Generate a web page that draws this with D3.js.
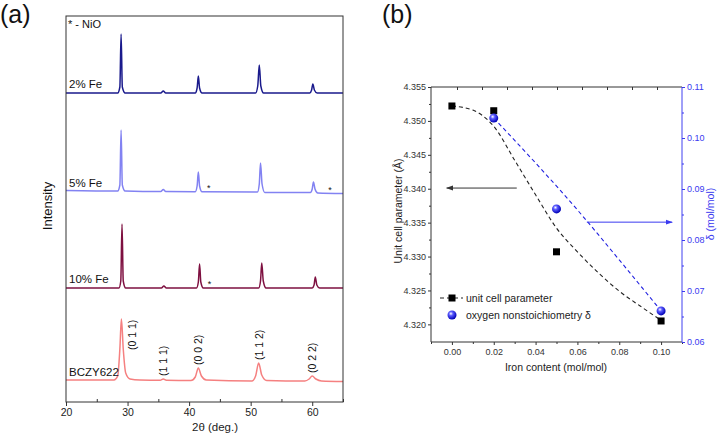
<!DOCTYPE html>
<html>
<head>
<meta charset="utf-8">
<script src="https://cdn.jsdelivr.net/npm/d3@7"></script>
<style>
body { margin: 0; background: #fff; }
text { font-family: "Liberation Sans", Arial, sans-serif; }
</style>
</head>
<body>
<div class="chart"></div>
<script>
// ---- data, panel (a): XRD patterns, [2theta, intensity above own baseline]
var sample_names = ["2% Fe", "5% Fe", "10% Fe", "BCZY622"];
var sample_colors = ["#1a1a8c", "#8282f2", "#7e1040", "#f58080"];
var sample_offsets = [309, 210, 114, 21];

var trace_2fe = [[20, 0], [28.4, 0], [28.75, 6], [28.95, 59], [29.15, 6], [29.6, 0], [35.4, 0], [35.8, 2], [36.2, 0],
    [41.0, 0], [41.3, 5], [41.5, 17], [41.7, 5], [42.1, 0], [50.8, 0], [51.15, 7], [51.4, 28], [51.65, 7], [52.1, 0],
    [59.6, 0], [59.9, 3], [60.1, 9], [60.35, 3], [60.8, 0], [65, 0]];
var trace_5fe = [[20, 1.5], [28.4, 1], [28.75, 7], [28.95, 62], [29.15, 7], [29.6, 1], [35.4, 0.5], [35.8, 2.5], [36.2, 0.5],
    [41.0, 0.3], [41.3, 6], [41.5, 20], [41.7, 6], [42.1, 0.2], [51.1, 0], [51.4, 8], [51.6, 29], [51.85, 8], [52.3, -0.5],
    [59.7, -0.5], [60.0, 3], [60.2, 10], [60.45, 3], [60.9, -1], [65, -1.5]];
var trace_10fe = [[20, 0], [28.6, 0], [28.9, 7], [29.1, 64], [29.3, 7], [29.7, 0], [35.5, 0], [35.9, 2], [36.3, 0],
    [41.2, 0], [41.5, 6], [41.7, 24], [41.9, 6], [42.3, 0], [51.3, 0], [51.6, 7], [51.8, 25], [52.05, 7], [52.5, 0],
    [60.0, 0], [60.3, 3], [60.5, 11], [60.75, 3], [61.2, 0], [65, 0]];
var trace_bczy = [[20, 1], [27.8, 1], [28.4, 5], [28.75, 32], [29.0, 62], [29.3, 32], [29.7, 8], [30.4, 2], [32, 1],
    [35.3, 0.8], [35.8, 2], [36.3, 0.8], [40.3, 0.5], [41.0, 4], [41.5, 13], [42.0, 5], [42.8, 1], [50.2, 0], [50.8, 5],
    [51.3, 18], [51.8, 6], [52.6, 0.5], [58.8, 0], [59.5, 2], [60.0, 5], [60.6, 2], [61.5, 0], [65, -0.5]];
var traces = [trace_2fe, trace_5fe, trace_10fe, trace_bczy];

// NiO reflections: [2theta, sample index, height above baseline]
var nio_marks = [[43.2, 1, 5], [62.9, 1, 3], [43.3, 2, 5]];

var hkl_labels = ["(0 1 1)", "(1 1 1)", "(0 0 2)", "(1 1 2)", "(0 2 2)"];
var hkl_peaks = [29.0, 35.8, 41.5, 51.3, 60.0];
var hkl_heights = [62, 2, 13, 18, 5];

var xrd_ticks = [20, 30, 40, 50, 60];
var xrd_minor = [25, 35, 45, 55, 65];

// ---- data, panel (b)
var iron = [0.00, 0.02, 0.05, 0.10];
var cell_param = [4.3522, 4.3515, 4.3307, 4.3205];
var delta_iron = [0.02, 0.05, 0.10];
var delta_vals = [0.1039, 0.0861, 0.0661];

// dashed guide curves
var cell_fit_x = [0.00, 0.01, 0.015, 0.02, 0.03, 0.04, 0.05, 0.06, 0.07, 0.08, 0.09, 0.10];
var cell_fit_y = [4.3522, 4.3516, 4.3507, 4.3492, 4.3442, 4.3391, 4.3342, 4.3307, 4.3276, 4.3249, 4.3227, 4.3206];
var delta_fit_x = [0.02, 0.04, 0.06, 0.08, 0.10];
var delta_fit_y = [0.1039, 0.0951, 0.0859, 0.0761, 0.0661];

var fe_ticks = [0.00, 0.02, 0.04, 0.06, 0.08, 0.10];
var fe_minor = [-0.01, 0.01, 0.03, 0.05, 0.07, 0.09, 0.11];
var cell_ticks = [4.320, 4.325, 4.330, 4.335, 4.340, 4.345, 4.350, 4.355];
var cell_minor = [4.3225, 4.3275, 4.3325, 4.3375, 4.3425, 4.3475, 4.3525];
var delta_ticks = [0.06, 0.07, 0.08, 0.09, 0.10, 0.11];
var delta_minor = [0.065, 0.075, 0.085, 0.095, 0.105];
var top_ticks = [0, 1, 2, 3, 4, 5, 6, 7, 8];

var svg = d3.select('.chart')
    .append('svg')
        .attr('width', 717)
        .attr('height', 434)
        .style('display', 'block');

svg.append('rect').attr('width', 717).attr('height', 434).attr('fill', '#fff');

var defs = svg.append('defs');
var grad = defs.append('radialGradient').attr('id', 'ball')
    .attr('cx', '38%').attr('cy', '35%').attr('r', '65%');
grad.append('stop').attr('offset', '0%').attr('stop-color', '#ffffff');
grad.append('stop').attr('offset', '35%').attr('stop-color', '#5a5aff');
grad.append('stop').attr('offset', '100%').attr('stop-color', '#0000b4');

function arrowHead(id, color) {
    defs.append('marker')
        .attr('id', id)
        .attr('viewBox', '0 0 10 10')
        .attr('refX', 9).attr('refY', 5)
        .attr('markerWidth', 7).attr('markerHeight', 7)
        .attr('orient', 'auto')
      .append('path')
        .attr('d', 'M0,1.5L10,5L0,8.5Z')
        .attr('fill', color);
}
arrowHead('arr-black', '#333');
arrowHead('arr-blue', '#3a3af0');

// ================= panel (a) =================
var xrd_x = d3.scaleLinear().domain([20, 65]).range([66, 343]);
var xrd_y = d3.scaleLinear().domain([0, 386]).range([402, 16]);

var xrd_line = d3.line()
    .x(function(d) { return xrd_x(d[0]); })
    .y(function(d) { return xrd_y(d[1]); })
    .curve(d3.curveMonotoneX);

var pa = svg.append('g');

traces.forEach(function(tr, i) {
    pa.append('path')
        .attr('d', xrd_line(tr.map(function(p) { return [p[0], p[1] + sample_offsets[i]]; })))
        .attr('fill', 'none')
        .attr('stroke', sample_colors[i])
        .attr('stroke-width', 1.5);
});

pa.selectAll('.sname')
    .data(sample_names)
    .enter()
    .append('text')
        .attr('x', xrd_x(20) + 3)
        .attr('y', function(d, i) { return xrd_y(sample_offsets[i]) - 5; })
        .attr('font-size', 11.5)
        .attr('fill', '#111')
        .text(function(d) { return d; });

pa.selectAll('.nio')
    .data(nio_marks)
    .enter()
    .append('text')
        .attr('x', function(d) { return xrd_x(d[0]); })
        .attr('y', function(d) { return xrd_y(sample_offsets[d[1]] + d[2]) + 4; })
        .attr('text-anchor', 'middle')
        .attr('font-size', 9)
        .attr('fill', '#111')
        .text('*');

pa.selectAll('.hkl')
    .data(hkl_labels)
    .enter()
    .append('text')
        .attr('transform', function(d, i) {
            var bx = xrd_x(hkl_peaks[i]) + (i == 0 ? 15 : 4);
            var by = i == 0 ? xrd_y(sample_offsets[3] + hkl_heights[i] / 2) : xrd_y(sample_offsets[3] + hkl_heights[i] + 3);
            return 'translate(' + bx + ',' + by + ') rotate(-90)';
        })
        .attr('font-size', 10.5)
        .attr('fill', '#111')
        .text(function(d) { return d; });

pa.append('text')
    .attr('x', 68).attr('y', 28)
    .attr('font-size', 11)
    .attr('fill', '#111')
    .text('* - NiO');

pa.append('rect')
    .attr('x', 66).attr('y', 16)
    .attr('width', 277).attr('height', 386)
    .attr('fill', 'none')
    .attr('stroke', '#333')
    .attr('stroke-width', 1);

var xrd_axis = pa.append('g')
    .attr('transform', 'translate(0,402)')
    .call(d3.axisBottom(xrd_x).tickValues(xrd_ticks).tickSize(4).tickPadding(3));
xrd_axis.select('.domain').remove();
xrd_axis.selectAll('text').attr('font-size', 10.5).attr('fill', '#222').style('font-family', '"Liberation Sans", Arial, sans-serif');
xrd_axis.selectAll('line').attr('stroke', '#333');

pa.append('g')
    .attr('transform', 'translate(0,402)')
    .call(d3.axisBottom(xrd_x).tickValues(xrd_minor).tickSize(-3).tickFormat(''))
    .call(function(g) { g.select('.domain').remove(); g.selectAll('line').attr('stroke', '#333'); });

pa.append('text')
    .attr('x', 215).attr('y', 431)
    .attr('text-anchor', 'middle')
    .attr('font-size', 11.5)
    .attr('fill', '#222')
    .text('2θ (deg.)');

pa.append('text')
    .attr('transform', 'translate(52,206) rotate(-90)')
    .attr('text-anchor', 'middle')
    .attr('font-size', 13)
    .attr('fill', '#111')
    .text('Intensity');

svg.append('text')
    .attr('x', 0).attr('y', 23)
    .attr('font-size', 25)
    .attr('fill', '#111')
    .text('(a)');

// ================= panel (b) =================
var fe_x = d3.scaleLinear().domain([-0.01, 0.11]).range([431, 682]);
var cell_y = d3.scaleLinear().domain([4.3174, 4.355]).range([342, 87]);
var delta_y = d3.scaleLinear().domain([0.06, 0.11]).range([342, 87]);
var top_x = d3.scaleLinear().domain([-1, 9]).range([432, 682]);

var pb = svg.append('g');

function styleAxis(g, color, size) {
    g.select('.domain').remove();
    g.selectAll('line').attr('stroke', color);
    g.selectAll('text').attr('font-size', size).attr('fill', color)
        .style('font-family', '"Liberation Sans", Arial, sans-serif');
}

// frame (left, top, bottom dark; right blue)
pb.append('path')
    .attr('d', 'M682,87H431V342H682')
    .attr('fill', 'none')
    .attr('stroke', '#333');
pb.append('line')
    .attr('x1', 682).attr('x2', 682).attr('y1', 87).attr('y2', 342)
    .attr('stroke', '#4040f0');

pb.append('g').attr('transform', 'translate(0,342)')
    .call(d3.axisBottom(fe_x).tickValues(fe_ticks).tickSize(3).tickPadding(4).tickFormat(d3.format('.2f')))
    .call(styleAxis, '#333', 9);
pb.append('g').attr('transform', 'translate(0,342)')
    .call(d3.axisBottom(fe_x).tickValues(fe_minor).tickSize(2).tickFormat(''))
    .call(styleAxis, '#333', 9);

pb.append('g').attr('transform', 'translate(0,87)')
    .call(d3.axisTop(top_x).tickValues(top_ticks).tickSize(-3).tickFormat(''))
    .call(styleAxis, '#333', 9);

pb.append('g').attr('transform', 'translate(431,0)')
    .call(d3.axisLeft(cell_y).tickValues(cell_ticks).tickSize(3).tickPadding(2).tickFormat(d3.format('.3f')))
    .call(styleAxis, '#333', 9);
pb.append('g').attr('transform', 'translate(431,0)')
    .call(d3.axisLeft(cell_y).tickValues(cell_minor).tickSize(2).tickFormat(''))
    .call(styleAxis, '#333', 9);

pb.append('g').attr('transform', 'translate(682,0)')
    .call(d3.axisRight(delta_y).tickValues(delta_ticks).tickSize(3).tickPadding(2).tickFormat(d3.format('.2f')))
    .call(styleAxis, '#3a3af0', 9);
pb.append('g').attr('transform', 'translate(682,0)')
    .call(d3.axisRight(delta_y).tickValues(delta_minor).tickSize(2).tickFormat(''))
    .call(styleAxis, '#3a3af0', 9);

// dashed guide curves
var cell_line = d3.line()
    .x(function(d) { return fe_x(d[0]); })
    .y(function(d) { return cell_y(d[1]); })
    .curve(d3.curveMonotoneX);
var delta_line = d3.line()
    .x(function(d) { return fe_x(d[0]); })
    .y(function(d) { return delta_y(d[1]); })
    .curve(d3.curveMonotoneX);

pb.append('path')
    .attr('d', cell_line(d3.zip(cell_fit_x, cell_fit_y)))
    .attr('fill', 'none')
    .attr('stroke', '#222')
    .attr('stroke-width', 1.1)
    .attr('stroke-dasharray', '4,3');
pb.append('path')
    .attr('d', delta_line(d3.zip(delta_fit_x, delta_fit_y)))
    .attr('fill', 'none')
    .attr('stroke', '#2020e0')
    .attr('stroke-width', 1.1)
    .attr('stroke-dasharray', '4,3');

// arrows
pb.append('line')
    .attr('x1', fe_x(0.031)).attr('x2', fe_x(-0.0025))
    .attr('y1', cell_y(4.3401)).attr('y2', cell_y(4.3401))
    .attr('stroke', '#333')
    .attr('marker-end', 'url(#arr-black)');
pb.append('line')
    .attr('x1', fe_x(0.0645)).attr('x2', fe_x(0.1053))
    .attr('y1', delta_y(0.0835)).attr('y2', delta_y(0.0835))
    .attr('stroke', '#3a3af0')
    .attr('marker-end', 'url(#arr-blue)');

// points
pb.selectAll('.sq')
    .data(d3.zip(iron, cell_param))
    .enter()
    .append('rect')
        .attr('x', function(d) { return fe_x(d[0]) - 3.5; })
        .attr('y', function(d) { return cell_y(d[1]) - 3.5; })
        .attr('width', 7).attr('height', 7)
        .attr('fill', '#000');

pb.selectAll('.ball')
    .data(d3.zip(delta_iron, delta_vals))
    .enter()
    .append('circle')
        .attr('cx', function(d) { return fe_x(d[0]); })
        .attr('cy', function(d) { return delta_y(d[1]); })
        .attr('r', 4.5)
        .attr('fill', 'url(#ball)');

// legend
pb.append('line')
    .attr('x1', 440).attr('x2', 463).attr('y1', 298).attr('y2', 298)
    .attr('stroke', '#222').attr('stroke-dasharray', '4,3').attr('stroke-width', 1.1);
pb.append('rect')
    .attr('x', 448.5).attr('y', 294.5).attr('width', 7).attr('height', 7).attr('fill', '#000');
pb.append('text')
    .attr('x', 466).attr('y', 301.5)
    .attr('font-size', 10.5).attr('fill', '#222')
    .text('unit cell parameter');
pb.append('circle')
    .attr('cx', 452).attr('cy', 315).attr('r', 4.5).attr('fill', 'url(#ball)');
pb.append('text')
    .attr('x', 466).attr('y', 318.5)
    .attr('font-size', 10.5).attr('fill', '#222')
    .text('oxygen nonstoichiometry δ');

// titles
pb.append('text')
    .attr('x', 556).attr('y', 371)
    .attr('text-anchor', 'middle')
    .attr('font-size', 10.5).attr('fill', '#222')
    .text('Iron content (mol/mol)');
pb.append('text')
    .attr('transform', 'translate(402,211) rotate(-90)')
    .attr('text-anchor', 'middle')
    .attr('font-size', 10.5).attr('fill', '#222')
    .text('Unit cell parameter (Å)');
pb.append('text')
    .attr('transform', 'translate(714,214) rotate(-90)')
    .attr('text-anchor', 'middle')
    .attr('font-size', 10.5).attr('fill', '#3a3af0')
    .text('δ (mol/mol)');

svg.append('text')
    .attr('x', 382).attr('y', 23)
    .attr('font-size', 25)
    .attr('fill', '#111')
    .text('(b)');
</script>
</body>
</html>
